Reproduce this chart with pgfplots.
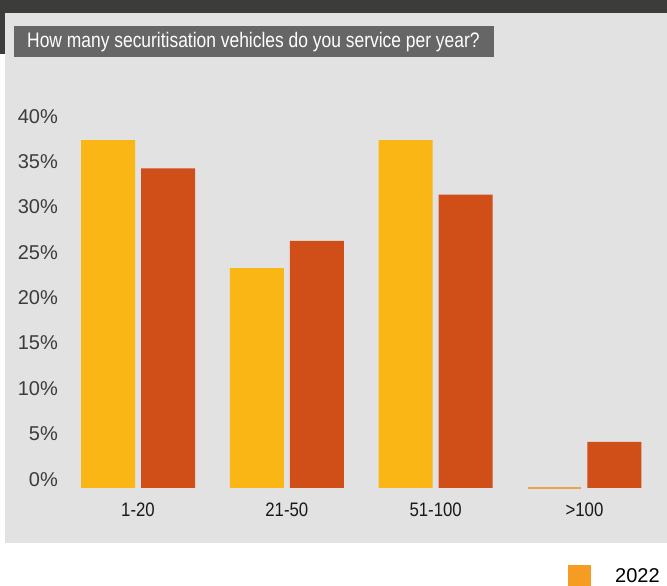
\documentclass[border=0pt]{standalone}
\usepackage{fontspec}
\setmainfont{Liberation Sans}
\usepackage{graphicx}
\usepackage{pgfplots}
\pgfplotsset{compat=1.18}
\definecolor{darkband}{RGB}{60,60,58}
\definecolor{panelgray}{RGB}{226,226,226}
\definecolor{titlegray}{RGB}{102,102,102}
\definecolor{baryellow}{RGB}{250,182,20}
\definecolor{barred}{RGB}{208,78,23}
\definecolor{zeroline}{RGB}{235,165,70}
\definecolor{legorange}{RGB}{245,157,35}
\definecolor{tickgray}{RGB}{60,60,60}
\definecolor{catblack}{RGB}{25,25,25}
\begin{document}
\begin{tikzpicture}
\useasboundingbox (0,0) rectangle (667pt,586pt);
\fill[white] (0,0) rectangle (667pt,586pt);
\fill[darkband] (0,573pt) rectangle (667pt,586pt);
\fill[darkband] (0,532pt) rectangle (4.7pt,573pt);
\fill[panelgray] (4.7pt,43.3pt) rectangle (667pt,573pt);
\fill[titlegray] (14pt,529pt) rectangle (494pt,560pt);
\node[anchor=base west, inner sep=0pt, text=white] at (27pt,538.3pt)
  {\fontsize{21}{25}\selectfont\scalebox{0.83}[1]{How many securitisation vehicles do you service per year?}};
\begin{axis}[
  at={(63.6pt,98pt)}, anchor=south west,
  scale only axis, width=595.3pt, height=376pt,
  xmin=-0.5, xmax=3.5, ymin=0, ymax=40,
  clip=false,
  axis line style={draw=none},
  tick style={draw=none},
  major tick length=0pt,
  ybar, bar width=54pt,
  xtick={0,1,2,3},
  xticklabels={\scalebox{0.86}[1]{1-20},\scalebox{0.86}[1]{21-50},\scalebox{0.86}[1]{51-100},\scalebox{0.86}[1]{>100}},
  ytick={0.979,5.806,10.633,15.460,20.287,25.114,29.941,34.768,39.595},
  yticklabels={0\%,5\%,10\%,15\%,20\%,25\%,30\%,35\%,40\%},
  yticklabel style={font=\fontsize{20}{24}\selectfont, text=tickgray, anchor=base east, inner sep=0pt, xshift=-5.6pt, yshift=-7.3pt},
  xticklabel style={font=\fontsize{19.5}{23}\selectfont, text=catblack, anchor=base, inner sep=0pt, yshift=-28.7pt},
]
\addplot[fill=baryellow, draw=none, bar shift=-30pt] coordinates {(0,37) (1,23.4) (2,37) (3,0)};
\addplot[fill=barred, draw=none, bar shift=30pt] coordinates {(0,34) (1,26.3) (2,31.2) (3,4.9)};
\addplot[fill=zeroline, draw=zeroline, line width=1.8pt, bar shift=-30pt, bar width=53pt] coordinates {(3,0)};
\end{axis}
\fill[legorange] (568pt,0) rectangle (591pt,21pt);
\node[anchor=base west, inner sep=0pt, text=black] at (615pt,3pt) {\fontsize{20}{24}\selectfont 2022};
\end{tikzpicture}
\end{document}
